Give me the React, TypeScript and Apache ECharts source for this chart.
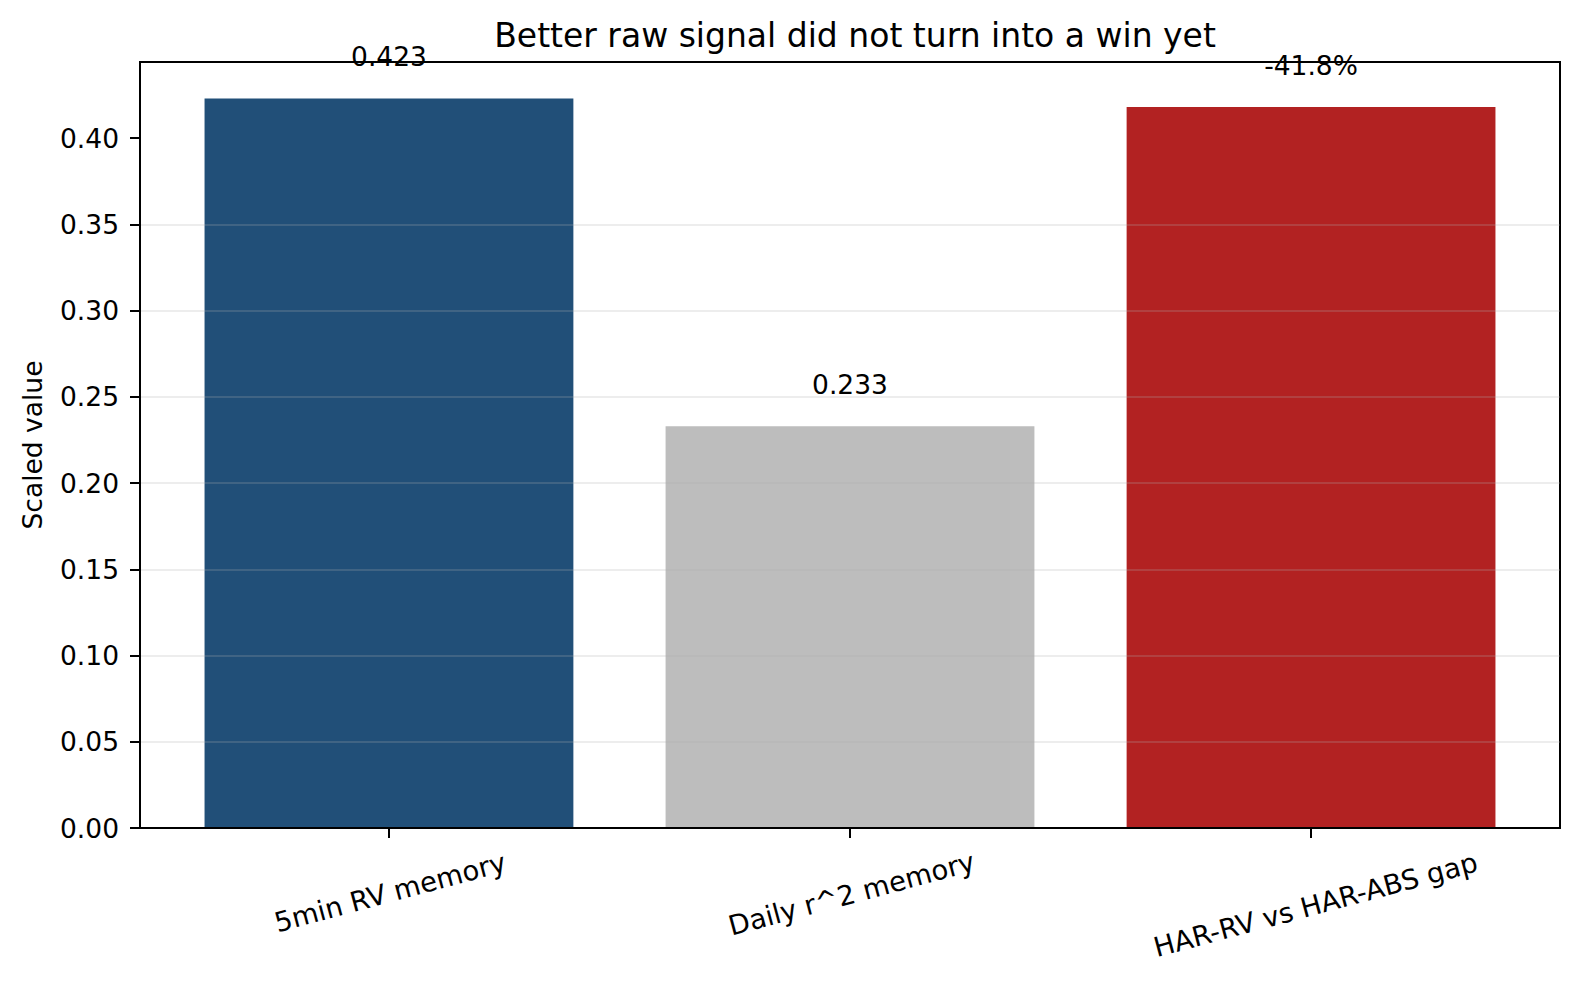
import React, { useEffect, useRef } from "react";
import * as echarts from "echarts";

const categories = ["5min RV memory", "Daily r^2 memory", "HAR-RV vs HAR-ABS gap"];
const values = [0.423, 0.233, 0.418];
const valueLabels = ["0.423", "0.233", "-41.8%"];
const yTicks = [0, 0.05, 0.1, 0.15, 0.2, 0.25, 0.3, 0.35, 0.4];
const xTicks = [0, 1, 2];
const titleText = "Better raw signal did not turn into a win yet";
const yAxisName = "Scaled value";

const palette = ["#214f78", "#bdbdbd", "#b22222"];
const FONT = "DejaVu Sans";

export default function App() {
  const ref = useRef<HTMLDivElement>(null);
  useEffect(() => {
    document.body.style.margin = "0";
    if (!ref.current) return;
    const chart = echarts.init(ref.current, null, { renderer: "svg" });
    const yMax = Math.max(...values) * 1.05;
    const axisLineStyle = { color: "#000", width: 2 };
    chart.setOption({
      animation: false,
      backgroundColor: "#fff",
      textStyle: { fontFamily: FONT },
      title: {
        text: titleText,
        left: 850,
        top: 14,
        textAlign: "center",
        textStyle: { fontSize: 33, fontWeight: "normal", color: "#000", fontFamily: FONT },
      },
      grid: {
        left: 140,
        right: 19,
        top: 62,
        bottom: 154,
        show: true,
        borderColor: "#000",
        borderWidth: 2,
        backgroundColor: "transparent",
      },
      xAxis: {
        type: "value",
        min: -0.54,
        max: 2.54,
        z: 3,
        splitLine: { show: false },
        axisLine: { show: true, onZero: false, lineStyle: axisLineStyle },
        axisTick: { show: true, customValues: xTicks, length: 10, lineStyle: axisLineStyle },
        axisLabel: {
          customValues: xTicks,
          formatter: (v: number) => `{g${v}| }\n{t|${categories[v]}}`,
          rotate: 15,
          align: "center",
          verticalAlign: "middle",
          margin: 60,
          color: "#000",
          fontSize: 27.5,
          fontFamily: FONT,
          rich: {
            t: { fontSize: 27.5, color: "#000", fontFamily: FONT },
            g0: { fontSize: 1, lineHeight: 8 },
            g1: { fontSize: 1, lineHeight: 11 },
            g2: { fontSize: 1, lineHeight: 34 },
          },
        },
      },
      yAxis: {
        type: "value",
        min: 0,
        max: yMax,
        interval: 0.05,
        z: 3,
        name: yAxisName,
        nameLocation: "middle",
        nameGap: 94,
        nameTextStyle: { fontSize: 26.5, color: "#000", fontFamily: FONT },
        axisLine: { show: true, onZero: false, lineStyle: axisLineStyle },
        axisTick: { show: true, customValues: yTicks, length: 10, lineStyle: axisLineStyle },
        axisLabel: {
          customValues: yTicks,
          formatter: (v: number) => v.toFixed(2),
          margin: 21,
          fontSize: 26.5,
          color: "#000",
          fontFamily: FONT,
        },
        splitLine: {
          show: true,
          showMaxLine: false,
          showMinLine: false,
          lineStyle: { color: "rgba(176,176,176,0.3)", width: 1.5 },
        },
      },
      series: [
        {
          type: "bar",
          barWidth: "80%",
          data: values.map((v, i) => ({
            value: [i, v],
            itemStyle: { color: palette[i] },
            label: { formatter: valueLabels[i] },
          })),
          label: {
            show: true,
            position: "top",
            distance: 28,
            fontSize: 26.5,
            color: "#000",
            fontFamily: FONT,
          },
        },
      ],
    });
    return () => chart.dispose();
  }, []);
  return <div ref={ref} style={{ width: 1579, height: 982 }} />;
}
